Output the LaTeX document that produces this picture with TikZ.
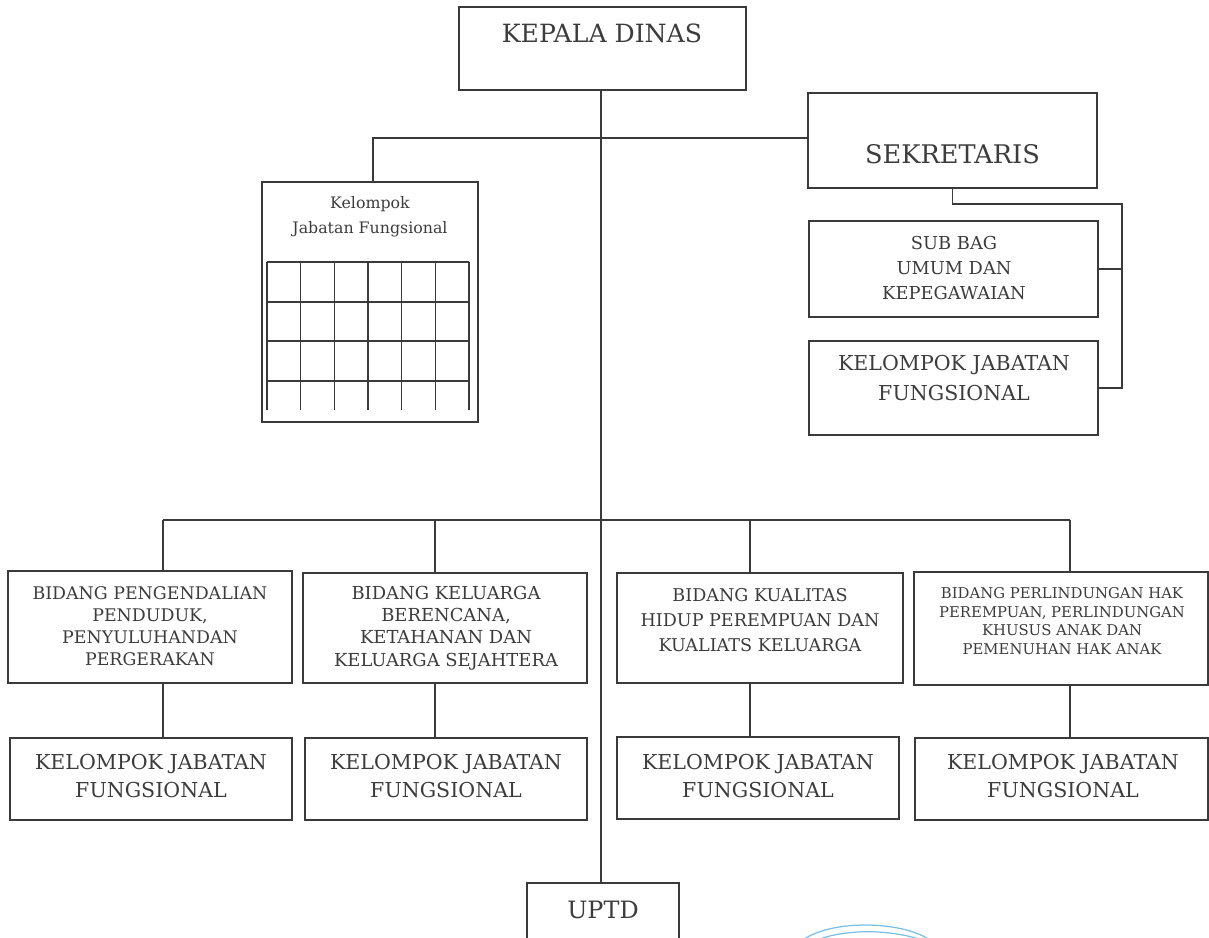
\documentclass[tikz,border=0pt]{standalone}
\usepackage{fontspec}
\setmainfont{DejaVu Serif}
\definecolor{ink}{HTML}{3A3A3A}
\definecolor{txt}{HTML}{3C3C3C}
\definecolor{stampblue}{RGB}{120,190,232}
\begin{document}
\begin{tikzpicture}[x=0.02cm,y=-0.02cm,
  box/.style={draw=ink, line width=1pt, rectangle, inner sep=0pt},
  sz/.style 2 args={minimum width=#1*0.02cm, minimum height=#2*0.02cm},
  lbl/.style={text=txt, align=center, inner sep=0pt},
  con/.style={draw=ink, line width=1pt},
  gridline/.style={draw=ink, line width=0.6pt},
  stamp/.style={draw=stampblue, line width=0.7pt}]
\useasboundingbox (0,0) rectangle (1209,937);

% ---------- boxes ----------
\node[box, sz={287}{83}] (kd) at (602.5,48.5) {};
\node[box, sz={289}{95}] (sek) at (952.5,140.5) {};
\node[box, sz={289}{96}] (sub) at (953.5,269) {};
\node[box, sz={289}{94}] (kjfs) at (953.5,388) {};
\node[box, sz={216}{240}] (kel) at (370,302) {};
\node[box, sz={284}{112}] (b1) at (150,627) {};
\node[box, sz={284}{110}] (b2) at (445,628) {};
\node[box, sz={286}{110}] (b3) at (760,628) {};
\node[box, sz={294}{113}] (b4) at (1061,628.5) {};
\node[box, sz={282}{82}] (k1) at (151,779) {};
\node[box, sz={282}{82}] (k2) at (446,779) {};
\node[box, sz={282}{82}] (k3) at (758,778) {};
\node[box, sz={293}{82}] (k4) at (1061.5,779) {};
\node[box, sz={152}{70}] (uptd) at (603,918) {};

% ---------- texts ----------
\node[lbl, font=\fontsize{14.3}{16}\selectfont] (kdt) at (602,33.5) {KEPALA DINAS};
\node[lbl, font=\fontsize{14.6}{17}\selectfont] (sekt) at (952.5,154) {SEKRETARIS};
\node[lbl, font=\fontsize{10.15}{14.2}\selectfont] (subt) at (954,268) {SUB BAG\\UMUM DAN\\KEPEGAWAIAN};
\node[lbl, font=\fontsize{11.7}{16.8}\selectfont] (kjfst) at (954,378) {KELOMPOK JABATAN\\FUNGSIONAL};
\node[lbl, font=\fontsize{9}{14.2}\selectfont] (kelt) at (370,217) {Kelompok\\Jabatan Fungsional};
\node[lbl, font=\fontsize{9.9}{12.4}\selectfont] (b1t) at (150,626) {BIDANG PENGENDALIAN\\PENDUDUK,\\PENYULUHANDAN\\PERGERAKAN};
\node[lbl, font=\fontsize{10.2}{12.6}\selectfont] (b2t) at (446,628) {BIDANG KELUARGA\\BERENCANA,\\KETAHANAN DAN\\KELUARGA SEJAHTERA};
\node[lbl, font=\fontsize{10}{14.2}\selectfont] (b3t) at (760,620) {BIDANG KUALITAS\\HIDUP PEREMPUAN DAN\\KUALIATS KELUARGA};
\node[lbl, font=\fontsize{8.45}{10.6}\selectfont] (b4t) at (1062,621) {BIDANG PERLINDUNGAN HAK\\PEREMPUAN, PERLINDUNGAN\\KHUSUS ANAK DAN\\PEMENUHAN HAK ANAK};
\node[lbl, font=\fontsize{11.7}{15.9}\selectfont] (k1t) at (151,776) {KELOMPOK JABATAN\\FUNGSIONAL};
\node[lbl, font=\fontsize{11.7}{15.9}\selectfont] (k2t) at (446,776) {KELOMPOK JABATAN\\FUNGSIONAL};
\node[lbl, font=\fontsize{11.7}{15.9}\selectfont] (k3t) at (758,776) {KELOMPOK JABATAN\\FUNGSIONAL};
\node[lbl, font=\fontsize{11.7}{15.9}\selectfont] (k4t) at (1063,776) {KELOMPOK JABATAN\\FUNGSIONAL};
\node[lbl, font=\fontsize{13.6}{15}\selectfont] (uptdt) at (603,910) {UPTD};

% ---------- grid inside Kelompok box ----------
\foreach \gx in {267,300.67,334.33,368,401.67,435.33,469}
  \draw[gridline] (\gx,262) -- (\gx,410);
\foreach \gy in {262,302,341,381}
  \draw[gridline] (267,\gy) -- (469,\gy);

% ---------- connectors ----------
\coordinate (cx) at (601,0);
\coordinate (lk) at (373,138);
\coordinate (sr) at (1122,204);
\coordinate (c1) at (163,520);
\coordinate (c2) at (435,520);
\coordinate (c3) at (750,520);
\coordinate (c4) at (1070,520);

\draw[con] (cx |- kd.south) -- (cx |- uptd.north);
\draw[con] (sek.west |- lk) -- (lk) -- (lk |- kel.north);
\draw[con] (sek.south) |- (sr) |- (kjfs.east);
\draw[con] (sub.east) -- (sub.east -| sr);
\draw[con] (c1) -- (c4);
\draw[con] (c1) -- (c1 |- b1.north);
\draw[con] (c2) -- (c2 |- b2.north);
\draw[con] (c3) -- (c3 |- b3.north);
\draw[con] (c4) -- (c4 |- b4.north);
\draw[con] (c1 |- b1.south) -- (c1 |- k1.north);
\draw[con] (c2 |- b2.south) -- (c2 |- k2.north);
\draw[con] (c3 |- b3.south) -- (c3 |- k3.north);
\draw[con] (c4 |- b4.south) -- (c4 |- k4.north);

% ---------- stamp fragment ----------
\draw[stamp] (803,940) .. controls (830,920) and (900,920) .. (930,940);
\draw[stamp] (817,940) .. controls (845,929) and (890,929) .. (922,940);
\end{tikzpicture}
\end{document}
